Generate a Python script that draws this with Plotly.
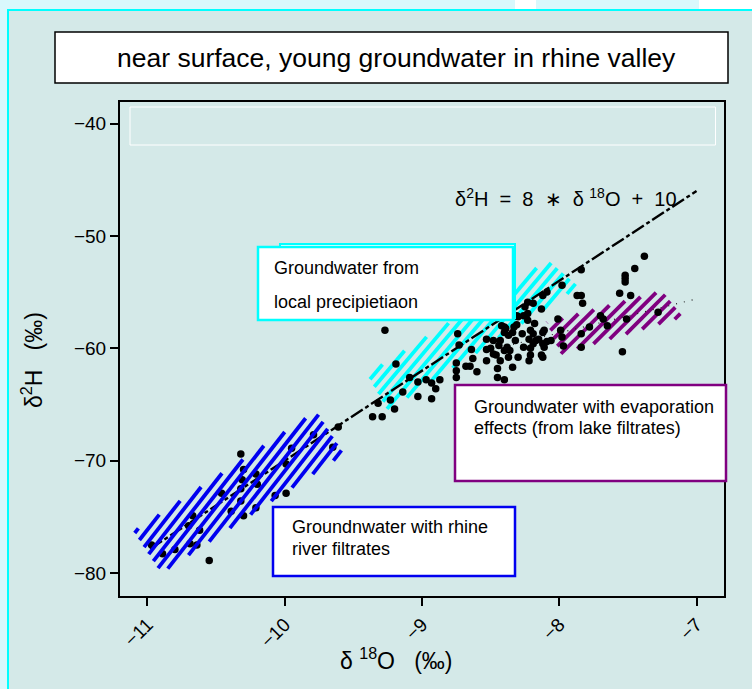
import math
import plotly.graph_objects as go

# ---------------- data ----------------
d18O = [
    -10.32, -10.55, -9.99, -9.95, -9.79, -9.65, -9.61, -10.30, -10.21, -10.31, -10.20, -10.32, -10.46, -10.32,
    -10.39, -10.30, -10.21, -10.07, -10.67, -10.70, -10.62, -10.69, -10.64, -10.80, -10.89, -10.97, -9.99,
    -9.27, -9.19, -9.09, -9.03, -8.97, -8.93, -8.87, -9.03, -8.93, -8.90, -9.23, -9.14, -9.20, -9.29, -9.36,
    -9.32, -8.73, -8.74, -8.75, -8.75, -8.75, -8.68, -8.65, -8.60, -8.64, -8.63, -8.53, -8.53, -8.45, -8.45,
    -8.40, -8.42, -8.33, -8.30, -8.25, -8.19, -8.12, -8.09, -7.98, -7.84, -8.27, -8.21, -8.18, -8.15, -8.21,
    -8.12, -8.21, -8.13, -8.30, -8.22, -8.09, -8.01,
    -7.87, -7.84, -7.83, -7.84, -7.78, -7.70, -7.68, -7.65, -7.56, -7.48, -7.52, -7.52, -7.52, -7.51, -7.54,
    -7.28, -7.45, -7.38, -7.97, -7.99, -7.98, -8.06, -7.84,
    -8.23, -8.13, -8.26, -8.40, -8.34, -8.11, -8.22, -8.17, -8.26, -8.36,
    -8.48, -8.44, -8.50, -8.40, -8.46, -8.37, -8.43, -8.53, -8.34, -8.32, -8.19, -8.12, -8.19, -8.11, -8.12,
    -8.23, -8.31, -8.31, -8.23, -8.40, -8.43, -8.38, -8.48, -8.37, -8.39,
]
d2H = [
    -69.4, -78.9, -72.9, -68.9, -67.7, -68.8, -67.0, -70.8, -71.2, -71.7, -72.1, -72.5, -72.9, -73.6,
    -74.5, -74.9, -74.2, -73.1, -74.9, -75.8, -76.2, -77.4, -77.5, -77.9, -78.3, -77.5, -70.3,
    -58.4, -61.4, -62.6, -63.0, -62.8, -63.1, -62.8, -64.3, -64.5, -63.6, -64.6, -63.9, -65.4, -66.1, -66.1,
    -64.9, -59.7, -58.7, -61.3, -62.0, -62.6, -61.6, -61.6, -62.1, -60.1, -60.9, -59.2, -60.1, -61.8, -62.6,
    -62.8, -58.0, -58.1, -57.2, -56.3, -56.0, -55.3, -55.0, -54.4, -53.0, -58.7, -58.4, -57.8, -59.2, -60.0,
    -59.6, -60.6, -60.6, -60.8, -61.1, -59.4, -57.4,
    -55.3, -55.3, -56.0, -59.9, -58.1, -57.1, -57.4, -58.0, -55.1, -55.3, -54.1, -53.5, -53.8, -57.4, -60.3,
    -56.8, -52.9, -51.8, -59.8, -58.4, -59.0, -59.3, -58.7,
    -55.9, -56.5, -57.1, -58.1, -58.6, -58.4, -59.2, -59.3, -59.9, -60.2,
    -59.3, -59.75, -60.0, -60.2, -60.6, -60.8, -61.1, -61.1, -61.7, -59.3, -58.7, -58.6, -59.6, -59.9, -60.8,
    -57.5, -57.1, -57.9, -56.9, -58.6, -59.3, -59.9, -60.5, -58.85, -58.25,
]

# meteoric water line  d2H = 8 * d18O + 10
gmwl_x = [-10.98, -7.0]
gmwl_y = [8 * v + 10 for v in gmwl_x]

# evaporation line (dotted)
evap_x = [-8.45, -7.0]
evap_y = [-60.0, -55.6]

# hatched regions (corner points of each area)
blue_band_x = [-11.10, -10.90, -9.57, -9.77]
blue_band_y = [-76.3, -80.0, -69.4, -65.6]
cyan_band_x = [-9.40, -9.25, -7.86, -8.08]
cyan_band_y = [-62.3, -65.5, -54.5, -52.2]
purple_band_x = [-8.09, -7.99, -7.10, -7.25]
purple_band_y = [-57.7, -60.5, -57.2, -54.9]

x_ticks = [-11, -10, -9, -8, -7]
y_ticks = [-80, -70, -60, -50, -40]

title_text = "near surface, young groundwater in rhine valley"
box_cyan_lines = ["Groundwater from", "local precipietiaon"]
box_purple_lines = ["Groundwater with evaporation", "effects (from lake filtrates)"]
box_blue_lines = ["Groundnwater with rhine", "river filtrates"]

# ---------------- layout geometry ----------------
W, H = 752, 689
ML, MR, MT, MB = 120, 28, 102, 93
PW = W - ML - MR
PH = H - MT - MB
XR = [-11.2, -6.8]
YR = [-82.05, -38.08]

BLUE = "#0000f0"
CYAN = "#00ffff"
PURPLE = "#800080"
FONT = "Liberation Sans, Arial, sans-serif"


def px(X):
    return (X - ML) / PW


def py(Y):
    return (H - MB - Y) / PH


def hatch(xs, ys, angle_deg, spacing):
    sx = PW / (XR[1] - XR[0])
    sy = PH / (YR[1] - YR[0])
    P = [(x * sx, y * sy) for x, y in zip(xs, ys)]
    th = math.radians(angle_deg)
    d = (math.cos(th), math.sin(th))
    n = (-math.sin(th), math.cos(th))
    proj = [p[0] * n[0] + p[1] * n[1] for p in P]
    lo, hi = min(proj), max(proj)
    ox, oy = [], []
    c = lo + spacing / 2
    while c < hi:
        ts = []
        for i in range(len(P)):
            a, b = P[i], P[(i + 1) % len(P)]
            sa = a[0] * n[0] + a[1] * n[1] - c
            sb = b[0] * n[0] + b[1] * n[1] - c
            if sa == sb or sa * sb > 0:
                continue
            f = sa / (sa - sb)
            q = (a[0] + f * (b[0] - a[0]), a[1] + f * (b[1] - a[1]))
            ts.append(q[0] * d[0] + q[1] * d[1])
        if len(ts) >= 2:
            for t in (min(ts), max(ts)):
                X = c * n[0] + t * d[0]
                Y = c * n[1] + t * d[1]
                ox.append(X / sx)
                oy.append(Y / sy)
            ox.append(None)
            oy.append(None)
        c += spacing
    return ox, oy


fig = go.Figure()

for bx, by, col, ang in [(cyan_band_x, cyan_band_y, CYAN, 50), (purple_band_x, purple_band_y, PURPLE, 45)]:
    hx, hy = hatch(bx, by, ang, 8.0)
    fig.add_trace(go.Scatter(x=hx, y=hy, mode="lines", line=dict(color=col, width=3.8),
                             hoverinfo="skip", showlegend=False))

fig.add_trace(go.Scatter(x=evap_x, y=evap_y, mode="lines",
                         line=dict(color="#202020", width=1.2, dash="1px,7px"),
                         hoverinfo="skip", showlegend=False))
fig.add_trace(go.Scatter(x=gmwl_x, y=gmwl_y, mode="lines",
                         line=dict(color="black", width=2.4, dash="14px,3px,4px,3px"),
                         hoverinfo="skip", showlegend=False))
fig.add_trace(go.Scatter(x=d18O, y=d2H, mode="markers",
                         marker=dict(color="black", size=7.5, symbol="circle"),
                         showlegend=False))

hx, hy = hatch(blue_band_x, blue_band_y, 52, 8.0)
fig.add_trace(go.Scatter(x=hx, y=hy, mode="lines", line=dict(color=BLUE, width=3.8),
                         hoverinfo="skip", showlegend=False))

shapes = []
# panel
shapes.append(dict(type="rect", xref="paper", yref="paper", layer="below",
                   x0=px(8), x1=px(770), y0=py(710), y1=py(10),
                   fillcolor="#d4e9e8", line=dict(color=CYAN, width=2)))
# white patches on top strip
for a, b in [(515, 536), (699, 752)]:
    shapes.append(dict(type="rect", xref="paper", yref="paper", layer="below",
                       x0=px(a), x1=px(b), y0=py(9), y1=py(0),
                       fillcolor="white", line=dict(width=0)))
# title box
shapes.append(dict(type="rect", xref="paper", yref="paper", x0=px(55), x1=px(728), y0=py(83), y1=py(32),
                   fillcolor="white", line=dict(color="black", width=1.5)))
# empty white outline box (legend area)
shapes.append(dict(type="rect", xref="paper", yref="paper", x0=px(130), x1=px(715.5), y0=py(145), y1=py(107),
                   line=dict(color="white", width=1)))
# cyan box (double)
shapes.append(dict(type="rect", xref="paper", yref="paper", x0=px(280), x1=px(515), y0=py(318), y1=py(244),
                   fillcolor="white", line=dict(color=CYAN, width=2)))
shapes.append(dict(type="rect", xref="paper", yref="paper", x0=px(258), x1=px(513), y0=py(320), y1=py(247),
                   fillcolor="white", line=dict(color=CYAN, width=2.5)))
# purple box
shapes.append(dict(type="rect", xref="paper", yref="paper", x0=px(455), x1=px(726), y0=py(481), y1=py(385),
                   fillcolor="white", line=dict(color=PURPLE, width=2.5)))
# blue box
shapes.append(dict(type="rect", xref="paper", yref="paper", x0=px(273), x1=px(515), y0=py(576), y1=py(507),
                   fillcolor="white", line=dict(color=BLUE, width=2.5)))

ann = []


def txt(s, X, Y, size, xanchor="left", angle=0):
    ann.append(dict(text=s, xref="paper", yref="paper", x=px(X), y=py(Y), xanchor=xanchor, yanchor="middle",
                    showarrow=False, textangle=angle, font=dict(family=FONT, size=size, color="black")))


txt(title_text, 396, 58, 26.5, "center")
txt(box_cyan_lines[0], 272, 268, 18)
txt(box_cyan_lines[1], 272, 302, 18)
txt(box_purple_lines[0], 472, 407, 18)
txt(box_purple_lines[1], 472, 428, 18)
txt(box_blue_lines[0], 290, 527, 18)
txt(box_blue_lines[1], 290, 549, 18)
sp = "\u00a0"
txt("δ<sup>2</sup>H" + sp * 2 + "=" + sp * 2 + "8" + sp * 2 + "∗" + sp * 2 + "δ" + sp + "<sup>18</sup>O"
    + sp * 2 + "+" + sp * 2 + "10", 566, 197, 20, "center")
txt("δ" + sp + "<sup>18</sup>O" + sp * 3 + "(‰)", 396, 659, 23, "center")
txt("δ<sup>2</sup>H" + sp * 3 + "(‰)", 32, 360, 23, "center", -90)

axis_common = dict(showline=True, mirror=True, linecolor="black", linewidth=2, ticks="outside", ticklen=8,
                   tickwidth=1.5, tickcolor="black", showgrid=False, zeroline=False,
                   tickfont=dict(family=FONT, size=19, color="black"))

fig.update_layout(
    width=W, height=H, margin=dict(l=ML, r=MR, t=MT, b=MB, pad=0),
    paper_bgcolor="#d9f8fc", plot_bgcolor="#d4e9e8",
    xaxis=dict(range=XR, tickvals=x_ticks, tickangle=-45, **axis_common),
    yaxis=dict(range=YR, tickvals=y_ticks, **axis_common),
    shapes=shapes, annotations=ann, showlegend=False,
)

fig.write_html("out.html")
